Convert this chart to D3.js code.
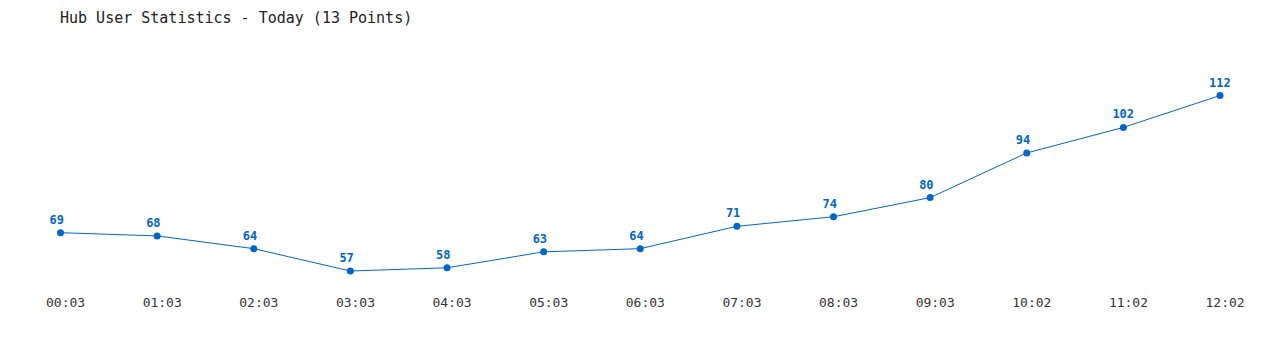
<!DOCTYPE html>
<html>
<head>
<meta charset="utf-8">
<script src="https://cdn.jsdelivr.net/npm/d3@7"></script>
<style>
  body { margin: 0; background: #fff; }
  text { font-family: "DejaVu Sans Mono", "Liberation Mono", monospace; }
</style>
</head>
<body>
<div id="chart"></div>
<script>
// chart data
var times = ["00:03", "01:03", "02:03", "03:03", "04:03", "05:03", "06:03",
             "07:03", "08:03", "09:03", "10:02", "11:02", "12:02"];
var users = [69, 68, 64, 57, 58, 63, 64, 71, 74, 80, 94, 102, 112];

var svgWidth = 1280;
var svgHeight = 350;
var blue = "#0066cc";

var svg = d3.select("#chart")
    .append("svg")
    .attr("width", svgWidth)
    .attr("height", svgHeight);

// title
svg.append("text")
    .attr("x", 60)
    .attr("y", 23)
    .style("font-size", "15px")
    .style("fill", "#222")
    .text("Hub User Statistics - Today (13 Points)");

// scales
var xScale = d3.scalePoint()
    .domain(times)
    .range([60.5, 1220]);

var yScale = d3.scaleLinear()
    .domain(d3.extent(users))
    .range([271, 95.5]);

var data = times.map(function(t, i) { return { time: t, value: users[i] }; });

// line
var line = d3.line()
    .x(d => xScale(d.time))
    .y(d => yScale(d.value));

svg.append("path")
    .datum(data)
    .attr("d", line)
    .attr("fill", "none")
    .attr("stroke", blue)
    .attr("stroke-width", 1);

// points
svg.selectAll("circle")
    .data(data)
    .enter()
    .append("circle")
    .attr("cx", d => xScale(d.time))
    .attr("cy", d => yScale(d.value))
    .attr("r", 3.5)
    .attr("fill", blue);

// value labels (left-aligned, like the original)
svg.selectAll(".val")
    .data(data)
    .enter()
    .append("text")
    .attr("class", "val")
    .attr("x", d => xScale(d.time) - 11)
    .attr("y", d => yScale(d.value) - 9)
    .style("font-size", "12px")
    .style("font-weight", "bold")
    .style("fill", blue)
    .text(d => d.value);

// x axis labels
var xAxis = d3.axisBottom(xScale).tickSize(0).tickPadding(0);
var xg = svg.append("g")
    .attr("transform", "translate(0, 298)")
    .call(xAxis);
xg.select(".domain").remove();
xg.selectAll("text")
    .attr("text-anchor", "start")
    .attr("x", -15)
    .style("font-size", "13px")
    .style("font-family", "'DejaVu Sans Mono', monospace")
    .style("fill", "#333");
</script>
</body>
</html>
